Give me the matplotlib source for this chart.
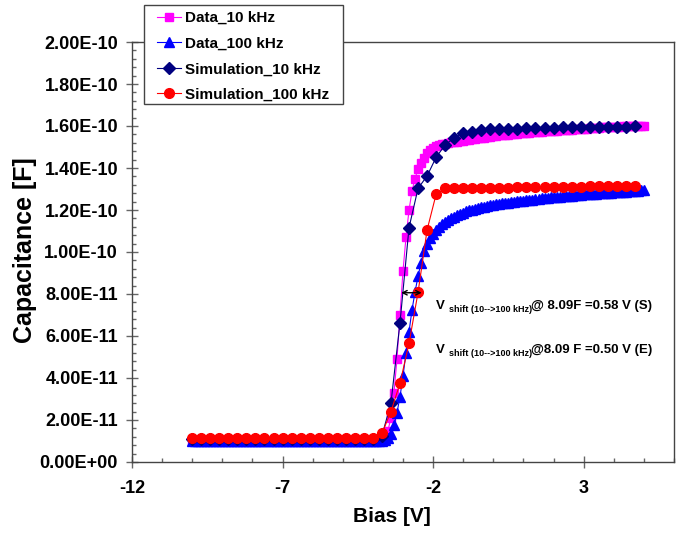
import numpy as np
import matplotlib
matplotlib.use('Agg')
import matplotlib.pyplot as plt
from matplotlib.ticker import MultipleLocator, FuncFormatter
from matplotlib.patches import Rectangle

plt.rcParams['font.family'] = ['Liberation Sans', 'DejaVu Sans']

# ---- measured data : bias sweep -10 .. 5 V, 0.1 V step (values in pF)
bias_data = np.round(np.linspace(-10, 5, 151), 1)
data_10k = [
    10.0, 10.0, 10.0, 10.0, 10.0, 10.0, 10.0, 10.0, 10.0, 10.0,
    10.0, 10.0, 10.0, 10.0, 10.0, 10.0, 10.0, 10.0, 10.0, 10.0,
    10.0, 10.0, 10.0, 10.0, 10.0, 10.0, 10.0, 10.0, 10.0, 10.0,
    10.0, 10.0, 10.0, 10.0, 10.0, 10.0, 10.0, 10.0, 10.0, 10.0,
    10.0, 10.0, 10.0, 10.0, 10.0, 10.0, 10.0, 10.0, 10.0, 10.0,
    10.0, 10.0, 10.0, 10.0, 10.0, 10.0, 10.0, 10.0, 10.0, 10.0,
    10.0, 10.1, 10.2, 10.6, 12.0, 15.0, 21.0, 33.0, 49.0, 70.0,
    91.0, 107.0, 120.0, 129.0, 135.0, 139.5, 142.5, 145.0, 147.0, 148.5,
    149.5, 150.3, 150.9, 151.3, 151.6, 151.9, 152.2, 152.4, 152.6, 152.8,
    153.0, 153.3, 153.5, 153.7, 153.9, 154.1, 154.3, 154.5, 154.7, 154.9,
    155.1, 155.3, 155.5, 155.6, 155.8, 155.9, 156.1, 156.2, 156.4, 156.5,
    156.6, 156.8, 156.9, 157.0, 157.1, 157.2, 157.3, 157.4, 157.5, 157.6,
    157.7, 157.8, 157.9, 158.0, 158.1, 158.2, 158.3, 158.4, 158.5, 158.6,
    158.7, 158.8, 158.9, 159.0, 159.1, 159.2, 159.3, 159.4, 159.5, 159.55,
    159.6, 159.7, 159.75, 159.8, 159.85, 159.9, 159.95, 160.0, 160.05, 160.1,
    160.2,
]
data_100k = [
    10.0, 10.0, 10.0, 10.0, 10.0, 10.0, 10.0, 10.0, 10.0, 10.0,
    10.0, 10.0, 10.0, 10.0, 10.0, 10.0, 10.0, 10.0, 10.0, 10.0,
    10.0, 10.0, 10.0, 10.0, 10.0, 10.0, 10.0, 10.0, 10.0, 10.0,
    10.0, 10.0, 10.0, 10.0, 10.0, 10.0, 10.0, 10.0, 10.0, 10.0,
    10.0, 10.0, 10.0, 10.0, 10.0, 10.0, 10.0, 10.0, 10.0, 10.0,
    10.0, 10.0, 10.0, 10.0, 10.0, 10.0, 10.0, 10.0, 10.0, 10.0,
    10.0, 10.0, 10.1, 10.2, 10.6, 11.5, 13.5, 17.5, 23.5, 31.0,
    41.0, 52.0, 62.0, 72.5, 81.0, 88.5, 95.0, 100.5, 104.0, 106.5,
    108.5, 110.5, 112.0, 113.3, 114.4, 115.3, 116.1, 116.9, 117.6, 118.2,
    118.8, 119.3, 119.8, 120.2, 120.6, 121.0, 121.3, 121.6, 121.9, 122.2,
    122.4, 122.7, 122.9, 123.1, 123.3, 123.5, 123.7, 123.9, 124.1, 124.3,
    124.5, 124.7, 124.9, 125.0, 125.2, 125.4, 125.5, 125.7, 125.8, 126.0,
    126.1, 126.3, 126.4, 126.5, 126.7, 126.8, 126.9, 127.0, 127.1, 127.3,
    127.4, 127.5, 127.6, 127.7, 127.8, 127.9, 128.0, 128.1, 128.2, 128.3,
    128.4, 128.5, 128.6, 128.7, 128.8, 128.9, 129.0, 129.1, 129.2, 129.3,
    129.4,
]

# ---- simulation : -10 .. 4.7 V, 0.3 V step (values in pF)
bias_sim = np.round(np.linspace(-10, 4.7, 50), 1)
sim_10k = [
    11.0, 11.0, 11.0, 11.0, 11.0, 11.0, 11.0, 11.0, 11.0, 11.0,
    11.0, 11.0, 11.0, 11.0, 11.0, 11.0, 11.0, 11.0, 11.0, 11.0,
    11.0, 12.5, 28.0, 66.3, 111.6, 130.3, 136.2, 145.1, 151.0, 154.4,
    156.5, 157.3, 158.1, 158.4, 158.6, 158.7, 158.8, 158.9, 159.0, 159.1,
    159.2, 159.3, 159.4, 159.5, 159.5, 159.6, 159.6, 159.7, 159.7, 159.8,
]
sim_100k = [
    11.3, 11.3, 11.3, 11.3, 11.3, 11.3, 11.3, 11.3, 11.3, 11.3,
    11.3, 11.3, 11.3, 11.3, 11.3, 11.3, 11.3, 11.3, 11.3, 11.3,
    11.3, 13.6, 24.0, 37.5, 56.5, 80.8, 110.5, 127.5, 130.3, 130.4,
    130.5, 130.5, 130.6, 130.6, 130.7, 130.7, 130.8, 130.8, 130.9, 130.9,
    131.0, 131.0, 131.1, 131.1, 131.2, 131.2, 131.3, 131.3, 131.4, 131.4,
]

pF = 1e-12
fig = plt.figure(figsize=(6.8, 5.37), dpi=100)
ax = fig.add_axes([132/680, 1-462/537, 542/680, 420/537])

ax.plot(bias_data, np.array(data_10k)*pF, color='#FF00FF', marker='s', ms=6, lw=0.8,
        mec='#FF00FF', label='Data_10 kHz')
ax.plot(bias_data, np.array(data_100k)*pF, color='#0000FF', marker='^', ms=7, lw=0.8,
        mec='#0000FF', label='Data_100 kHz')
ax.plot(bias_sim, np.array(sim_10k)*pF, color='#000080', marker='D', ms=6.3, lw=0.8,
        mec='#000080', label='Simulation_10 kHz')
ax.plot(bias_sim, np.array(sim_100k)*pF, color='#FF0000', marker='o', ms=7, lw=0.8,
        mec='#FF0000', label='Simulation_100 kHz')

ax.set_xlim(-12, 6)
ax.set_ylim(0, 2e-10)
ax.xaxis.set_major_locator(MultipleLocator(5, offset=3))
ax.xaxis.set_minor_locator(MultipleLocator(1))
ax.yaxis.set_major_locator(MultipleLocator(2e-11))
ax.yaxis.set_minor_locator(MultipleLocator(4e-12))
ax.yaxis.set_major_formatter(FuncFormatter(lambda v, p: '%.2E' % v))
ax.xaxis.set_major_formatter(FuncFormatter(lambda v, p: '%d' % round(v)))

for s in ax.spines.values():
    s.set_color('#444444')
    s.set_linewidth(1.0)
ax.tick_params(which='major', direction='inout', length=8, width=1, color='#666666')
ax.tick_params(which='minor', direction='in', length=3, width=1, color='#666666')
ax.tick_params(axis='x', which='major', pad=9)
ax.tick_params(axis='y', which='major', pad=6)
for lab in ax.get_xticklabels() + ax.get_yticklabels():
    lab.set_fontsize(13)
    lab.set_fontweight('bold')

fig.text(392/680, 1-516/537, 'Bias [V]', ha='center', va='center',
         fontsize=15, fontweight='bold')
fig.text(25/680, 1-250/537, 'Capacitance [F]', ha='center', va='center',
         rotation=90, fontsize=18, fontweight='bold')

# shift arrow at 8.09E-11
ax.annotate('', xy=(-3.06, 80.6*pF), xytext=(-2.38, 80.6*pF),
            arrowprops=dict(arrowstyle='<->', color='black', lw=1,
                            shrinkA=0, shrinkB=0, mutation_scale=8))

def fx(px):
    return (px - 132) / 542.0

def fy(py):
    return (462 - py) / 420.0

notes = [(309.3, '@ 8.09F =0.58 V (S)'), (353.3, '@8.09 F =0.50 V (E)')]
for base, rest in notes:
    ax.text(fx(436), fy(base), 'V', transform=ax.transAxes, fontsize=9.5,
            fontweight='bold', va='baseline')
    ax.text(fx(449), fy(base + 2.4), 'shift (10-->100 kHz)', transform=ax.transAxes,
            fontsize=6.5, fontweight='bold', va='baseline')
    ax.text(fx(531), fy(base), rest, transform=ax.transAxes, fontsize=9.5,
            fontweight='bold', va='baseline')

# legend with its own box
box = Rectangle((144/680, 1-104/537), 199/680, 99/537, transform=fig.transFigure,
                facecolor='white', edgecolor='#444444', lw=1, zorder=4)
fig.add_artist(box)
h, l = ax.get_legend_handles_labels()
leg = fig.legend(h, l, loc='upper left', bbox_to_anchor=(157/680, 1-11/537),
                 bbox_transform=fig.transFigure, frameon=False, borderpad=0,
                 borderaxespad=0, handlelength=1.6, handletextpad=0.25,
                 labelspacing=0.76, prop={'size': 11, 'weight': 'bold'})
leg.set_zorder(5)

fig.savefig('out.png', dpi=100)
